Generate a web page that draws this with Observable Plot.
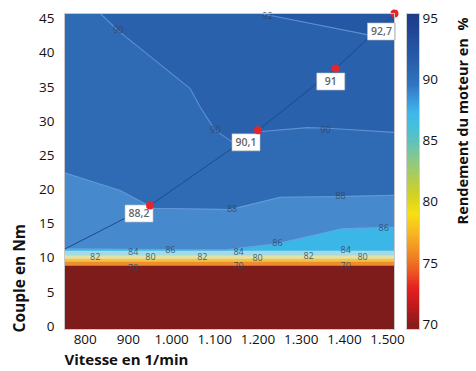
<!DOCTYPE html>
<html><head><meta charset="utf-8">
<script src="https://cdn.jsdelivr.net/npm/d3@7"></script>
<script src="https://cdn.jsdelivr.net/npm/@observablehq/plot@0.6"></script>
<style>
html,body{margin:0;padding:0;background:#fff;}
#wrap{position:relative;width:476px;height:371px;overflow:hidden;font-family:"Open Sans",sans-serif;}
#wrap svg{position:absolute;top:0;overflow:visible;}
</style></head><body><div id="wrap"></div>
<script>
// ---- tick labels ----
const xTicks = [800, 900, 1000, 1100, 1200, 1300, 1400, 1500];
const yTicks = [0, 5, 10, 15, 20, 25, 30, 35, 40, 45];
const cbTicks = [70, 75, 80, 85, 90, 95];

// ---- contour boundaries (speed in 1/min, torque in Nm); region above each line has the given level ----
const bandLevels = ["<70", "70", "78", "80", "82", "84", "86", "88", "90", "92"];
const cBaseSpeed = [752, 1516], cBaseTorque = [-0.45, -0.45];
const c70Speed = [752, 1516], c70Torque = [8.8, 8.8];
const c78Speed = [752, 1516], c78Torque = [9.4, 9.4];
const c80Speed = [752, 1516], c80Torque = [9.85, 9.85];
const c82Speed = [752, 1516], c82Torque = [10.3, 10.3];
const c84Speed = [752, 1516], c84Torque = [11.0, 11.0];
const c86Speed = [752, 1125, 1245, 1396, 1516];
const c86Torque = [11.35, 11.2, 12.1, 14.3, 14.5];
const c88Speed = [752, 881, 958, 1136, 1252, 1391, 1516];
const c88Torque = [22.5, 19.9, 17.3, 17.1, 18.9, 19.0, 19.2];
const c90Speed = [835, 876, 1043, 1067, 1101, 1143, 1201, 1315, 1361, 1516];
const c90Torque = [45.8, 43.3, 34.8, 32.0, 28.7, 26.9, 28.5, 29.1, 29.0, 28.4];
const c92Speed = [1206, 1461, 1516];
const c92Torque = [45.8, 42.6, 42.2];

// ---- contour labels ----
const clabSpeed = [876, 1101, 1356, 1222, 1140, 1391, 997, 1245, 1491, 823, 1071, 1317, 911, 1155, 1403, 951, 1199, 1442, 911, 1155, 1403];
const clabTorque = [43.3, 28.7, 28.8, 45.4, 17.2, 19.1, 11.2, 12.2, 14.4, 10.2, 10.2, 10.3, 10.9, 10.9, 11.1, 10.1, 10.0, 10.1, 8.6, 8.9, 8.9];
const clabText = ["90", "90", "90", "92", "88", "88", "86", "86", "86", "82", "82", "82", "84", "84", "84", "80", "80", "80", "70", "70", "70"];

// ---- optimum efficiency line and marked points ----
const optSpeed = [752, 950, 1200, 1380, 1516];
const optTorque = [11.3, 17.7, 28.7, 37.75, 45.8];
const ptSpeed = [950, 1200, 1380, 1516];
const ptTorque = [17.7, 28.7, 37.75, 45.8];
const ptLabel = ["88,2", "90,1", "91", "92,7"];

// ---- colour bar stops (efficiency in %) ----
const cmapValues = [70, 71.5, 73, 74.5, 76, 77.5, 79, 80.5, 82, 83.5, 85, 86.3, 87.3, 88.3, 89.5, 91, 93, 95];

// ===== styles (not data) =====
const bandColors = ["#7e1c1c", "#ee8c2e", "#f4c33f", "#e3e1a9", "#a6dae3", "#3bb7e7", "#4689cc", "#2f6bb4", "#2a61ac", "#2558a4"];
const cmapColors = ["#8a1c1c", "#c01a1c", "#e62222", "#ee6022", "#f29022", "#f7b822", "#f7e014", "#d2d220", "#b0cc55", "#88c88c", "#5cc2bc", "#44bfe0", "#3fb6ea", "#3a98dc", "#3276c2", "#2a63b0", "#23509f", "#1e3c8c"];
const boxOffsets = [[-11, 8], [-12, 12], [-5, 13], [-13, 18]];

const xMin = 752, xMax = 1516, yMin = -0.45, yMax = 45.8;
const fmtX = d => d >= 1000 ? d3.format(",")(d).replace(/,/g, ".") : String(d);

const contours = [
  [cBaseSpeed, cBaseTorque], [c70Speed, c70Torque], [c78Speed, c78Torque], [c80Speed, c80Torque],
  [c82Speed, c82Torque], [c84Speed, c84Torque], [c86Speed, c86Torque], [c88Speed, c88Torque],
  [c90Speed, c90Torque], [c92Speed, c92Torque]
];
const rowsOf = (i) => contours[i][0].map((s, j) => ({speed: s, torque: contours[i][1][j], level: bandLevels[i]}));

const bandMarks = contours.map((c, i) =>
  Plot.areaY(rowsOf(i), {x: "speed", y1: "torque", y2: yMax, fill: "level", curve: "linear"}));
const lineMarks = [6, 7, 8, 9].map(i =>
  Plot.line(rowsOf(i), {x: "speed", y: "torque", stroke: "#6d9fdc", strokeWidth: 1.1, strokeOpacity: 0.75}));

const clabRows = clabText.map((t, i) => ({speed: clabSpeed[i], torque: clabTorque[i], text: t}));
const optRows = optSpeed.map((s, i) => ({speed: s, torque: optTorque[i]}));
const ptRows = ptSpeed.map((s, i) => ({speed: s, torque: ptTorque[i], label: ptLabel[i]}));

const boxSymbol = {draw(ctx) { ctx.rect(-14, -8.5, 28, 17); }};
const boxMarks = ptRows.flatMap((r, i) => [
  Plot.dot([r], {x: "speed", y: "torque", symbol: boxSymbol, fill: "white", stroke: "#bdbdbd", strokeWidth: 0.6, dx: boxOffsets[i][0], dy: boxOffsets[i][1]}),
  Plot.text([r], {x: "speed", y: "torque", text: "label", dx: boxOffsets[i][0], dy: boxOffsets[i][1], fill: "#666", fontSize: 10.5, fontWeight: 600})
]);

const main = Plot.plot({
  width: 400, height: 371,
  marginLeft: 64, marginRight: 6, marginTop: 13, marginBottom: 42,
  style: {fontFamily: "Open Sans", fontSize: "13.5px", color: "#111", background: "transparent", overflow: "visible"},
  x: {domain: [xMin, xMax], ticks: xTicks, tickFormat: fmtX, tickSize: 0, tickPadding: 5, label: null},
  y: {domain: [yMin, yMax], ticks: yTicks, tickSize: 0, tickPadding: 10, label: null},
  color: {type: "ordinal", domain: bandLevels, range: bandColors},
  marks: [
    ...bandMarks,
    ...lineMarks,
    Plot.text(clabRows, {x: "speed", y: "torque", text: "text", fontSize: 9, fill: "#2b4466", fillOpacity: 0.85}),
    Plot.line(optRows, {x: "speed", y: "torque", stroke: "#1d4a8a", strokeWidth: 1}),
    ...boxMarks,
    Plot.dot(ptRows, {x: "speed", y: "torque", r: 4, fill: "#e3262b"}),
    Plot.frame({stroke: "#c8c8c8"}),
    Plot.text(["Couple en Nm"], {frameAnchor: "bottom-left", dx: -40, dy: 3, rotate: -90, textAnchor: "start", fontWeight: "bold", fontSize: 15.5, fill: "#111"}),
    Plot.text(["Vitesse en 1/min"], {frameAnchor: "bottom-left", dx: 0, dy: 35.5, textAnchor: "start", fontWeight: "bold", fontSize: 15, fill: "#111"})
  ]
});
main.style.left = "0px";
document.getElementById("wrap").appendChild(main);

// ---- colour bar ----
const cscale = d3.scaleLinear().domain(cmapValues).range(cmapColors).clamp(true);
const cbSteps = d3.range(69.6, 95.4, 0.2);
const cb = Plot.plot({
  width: 76, height: 371,
  marginLeft: 6, marginRight: 57, marginTop: 13, marginBottom: 42,
  style: {fontFamily: "Open Sans", fontSize: "13.5px", color: "#111", background: "transparent", overflow: "visible"},
  x: {domain: [0, 1], axis: null},
  y: {domain: [69.6, 95.4], axis: "right", ticks: cbTicks, tickSize: 0, tickPadding: 3, label: null},
  color: {type: "identity"},
  marks: [
    Plot.rect(cbSteps, {x1: 0, x2: 1, y1: d => d, y2: d => Math.min(d + 0.26, 95.4), fill: d => cscale(d + 0.1)}),
    Plot.frame({stroke: "#cfcfcf"}),
    Plot.text(["Rendement du moteur en  %"], {frameAnchor: "top-right", dx: 38, dy: 4, rotate: -90, textAnchor: "end", fontWeight: "bold", fontSize: 14.5, fill: "#111"})
  ]
});
cb.style.left = "400px";
document.getElementById("wrap").appendChild(cb);
</script></body></html>
